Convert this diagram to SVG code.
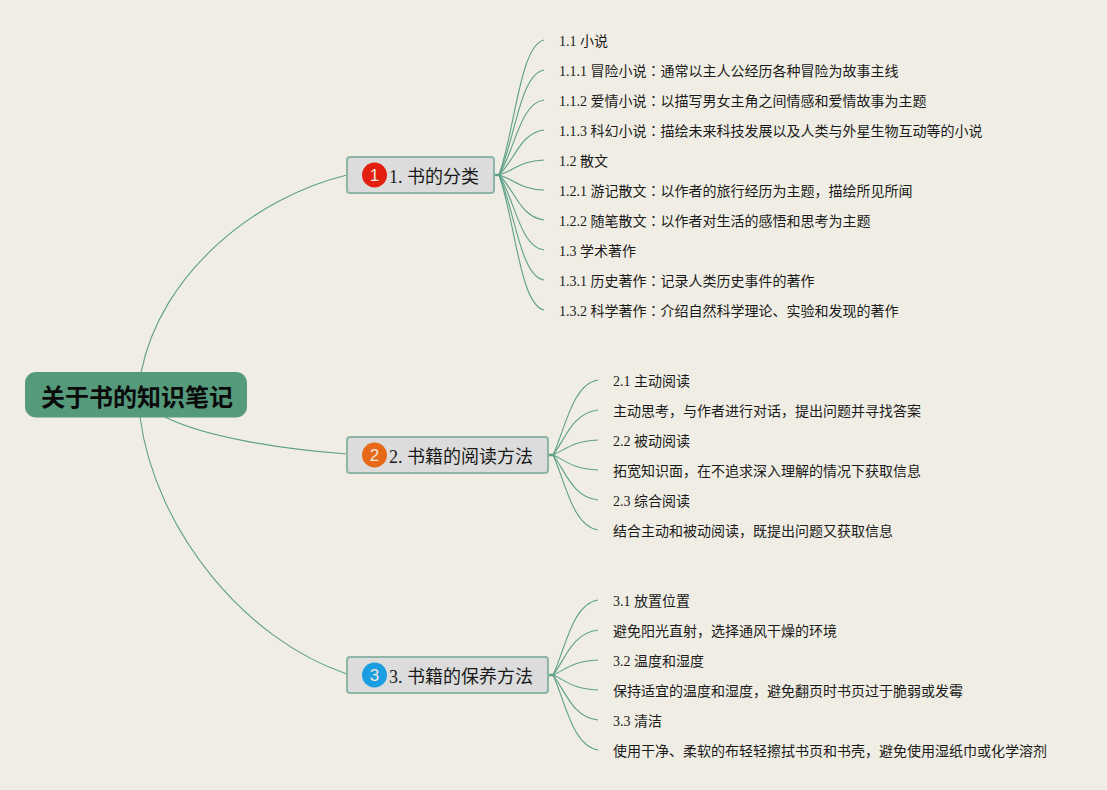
<svg xmlns="http://www.w3.org/2000/svg" width="1107" height="790" viewBox="0 0 1107 790">
<style>
text{font-family:"Liberation Serif","Noto Sans CJK SC",sans-serif;fill:#1a1a1a}
.leaf{font-size:14px}
.c{font-family:"Noto Sans CJK JP",sans-serif}
.topic{font-size:18px}
.root{font-size:24px;font-weight:bold;fill:#0a0a0a;font-family:"Noto Sans CJK SC",sans-serif}
.box{fill:#dcdcdc;stroke:#8fb5a8;stroke-width:2}
.num{font-family:"Liberation Sans",sans-serif;font-size:17px;fill:#f3e8dc;text-anchor:middle}
#connectors path{fill:none;stroke:#5d9f88;stroke-width:1.1}
#connectors path.stub{stroke-width:2.5}
</style>
<rect width="1107" height="790" fill="#f0eee4"/>
<g id="connectors">
<path d="M141 373C160 274 255 197 347 175"/>
<path d="M140 417C155 530 245 640 347 674"/>
<path d="M165 417C205 437 280 449 347 454"/>
<path class="stub" d="M494 175H500"/>
<path d="M499 175C515 130 520 45 544 40"/>
<path d="M499 175C515 140 520 74 544 70"/>
<path d="M499 175C515 150 520 103 544 100"/>
<path d="M499 175C515 160 520 133 544 130"/>
<path d="M499 175C515 170 520 161 544 160"/>
<path d="M499 175C515 180 520 189 544 190"/>
<path d="M499 175C515 190 520 217 544 220"/>
<path d="M499 175C515 200 520 247 544 250"/>
<path d="M499 175C515 210 520 276 544 280"/>
<path d="M499 175C515 220 520 305 544 310"/>
<path class="stub" d="M548 455H554"/>
<path d="M553 455C565 430 572 384 598 380"/>
<path d="M553 455C565 440 572 413 598 410"/>
<path d="M553 455C565 450 572 441 598 440"/>
<path d="M553 455C565 460 572 469 598 470"/>
<path d="M553 455C565 470 572 497 598 500"/>
<path d="M553 455C565 480 572 526 598 530"/>
<path class="stub" d="M548 675H554"/>
<path d="M553 675C565 650 572 604 598 600"/>
<path d="M553 675C565 660 572 633 598 630"/>
<path d="M553 675C565 670 572 661 598 660"/>
<path d="M553 675C565 680 572 689 598 690"/>
<path d="M553 675C565 690 572 717 598 720"/>
<path d="M553 675C565 700 572 746 598 750"/>
</g>
<g id="root"><rect x="25" y="372" width="222" height="45.500" rx="11" fill="#569a7c"/><text class="root" x="41" y="406">关于书的知识笔记</text></g>
<g id="topic1"><rect class="box" x="347" y="157" width="147" height="36" rx="3"/><circle cx="374.500" cy="175" r="12.500" fill="#e3200f"/><text class="num" x="374.500" y="181">1</text><text class="topic" x="389" y="183">1. 书的分类</text></g>
<g id="topic2"><rect class="box" x="347" y="437" width="201" height="36" rx="3"/><circle cx="374.500" cy="455" r="12.500" fill="#e8681a"/><text class="num" x="374.500" y="461">2</text><text class="topic" x="389" y="463">2. 书籍的阅读方法</text></g>
<g id="topic3"><rect class="box" x="347" y="657" width="201" height="36" rx="3"/><circle cx="374.500" cy="675" r="12.500" fill="#1b9de2"/><text class="num" x="374.500" y="681">3</text><text class="topic" x="389" y="683">3. 书籍的保养方法</text></g>
<g id="leaves1">
<text class="leaf" x="559" y="46">1.1 小说</text>
<text class="leaf" x="559" y="76">1.1.1 冒险小说<tspan class="c">：</tspan>通常以主人公经历各种冒险为故事主线</text>
<text class="leaf" x="559" y="106">1.1.2 爱情小说<tspan class="c">：</tspan>以描写男女主角之间情感和爱情故事为主题</text>
<text class="leaf" x="559" y="136">1.1.3 科幻小说<tspan class="c">：</tspan>描绘未来科技发展以及人类与外星生物互动等的小说</text>
<text class="leaf" x="559" y="166">1.2 散文</text>
<text class="leaf" x="559" y="196">1.2.1 游记散文<tspan class="c">：</tspan>以作者的旅行经历为主题，描绘所见所闻</text>
<text class="leaf" x="559" y="226">1.2.2 随笔散文<tspan class="c">：</tspan>以作者对生活的感悟和思考为主题</text>
<text class="leaf" x="559" y="256">1.3 学术著作</text>
<text class="leaf" x="559" y="286">1.3.1 历史著作<tspan class="c">：</tspan>记录人类历史事件的著作</text>
<text class="leaf" x="559" y="316">1.3.2 科学著作<tspan class="c">：</tspan>介绍自然科学理论、实验和发现的著作</text>
</g>
<g id="leaves2">
<text class="leaf" x="613" y="386">2.1 主动阅读</text>
<text class="leaf" x="613" y="416">主动思考，与作者进行对话，提出问题并寻找答案</text>
<text class="leaf" x="613" y="446">2.2 被动阅读</text>
<text class="leaf" x="613" y="476">拓宽知识面，在不追求深入理解的情况下获取信息</text>
<text class="leaf" x="613" y="506">2.3 综合阅读</text>
<text class="leaf" x="613" y="536">结合主动和被动阅读，既提出问题又获取信息</text>
</g>
<g id="leaves3">
<text class="leaf" x="613" y="606">3.1 放置位置</text>
<text class="leaf" x="613" y="636">避免阳光直射，选择通风干燥的环境</text>
<text class="leaf" x="613" y="666">3.2 温度和湿度</text>
<text class="leaf" x="613" y="696">保持适宜的温度和湿度，避免翻页时书页过于脆弱或发霉</text>
<text class="leaf" x="613" y="726">3.3 清洁</text>
<text class="leaf" x="613" y="756">使用干净、柔软的布轻轻擦拭书页和书壳，避免使用湿纸巾或化学溶剂</text>
</g>
</svg>
